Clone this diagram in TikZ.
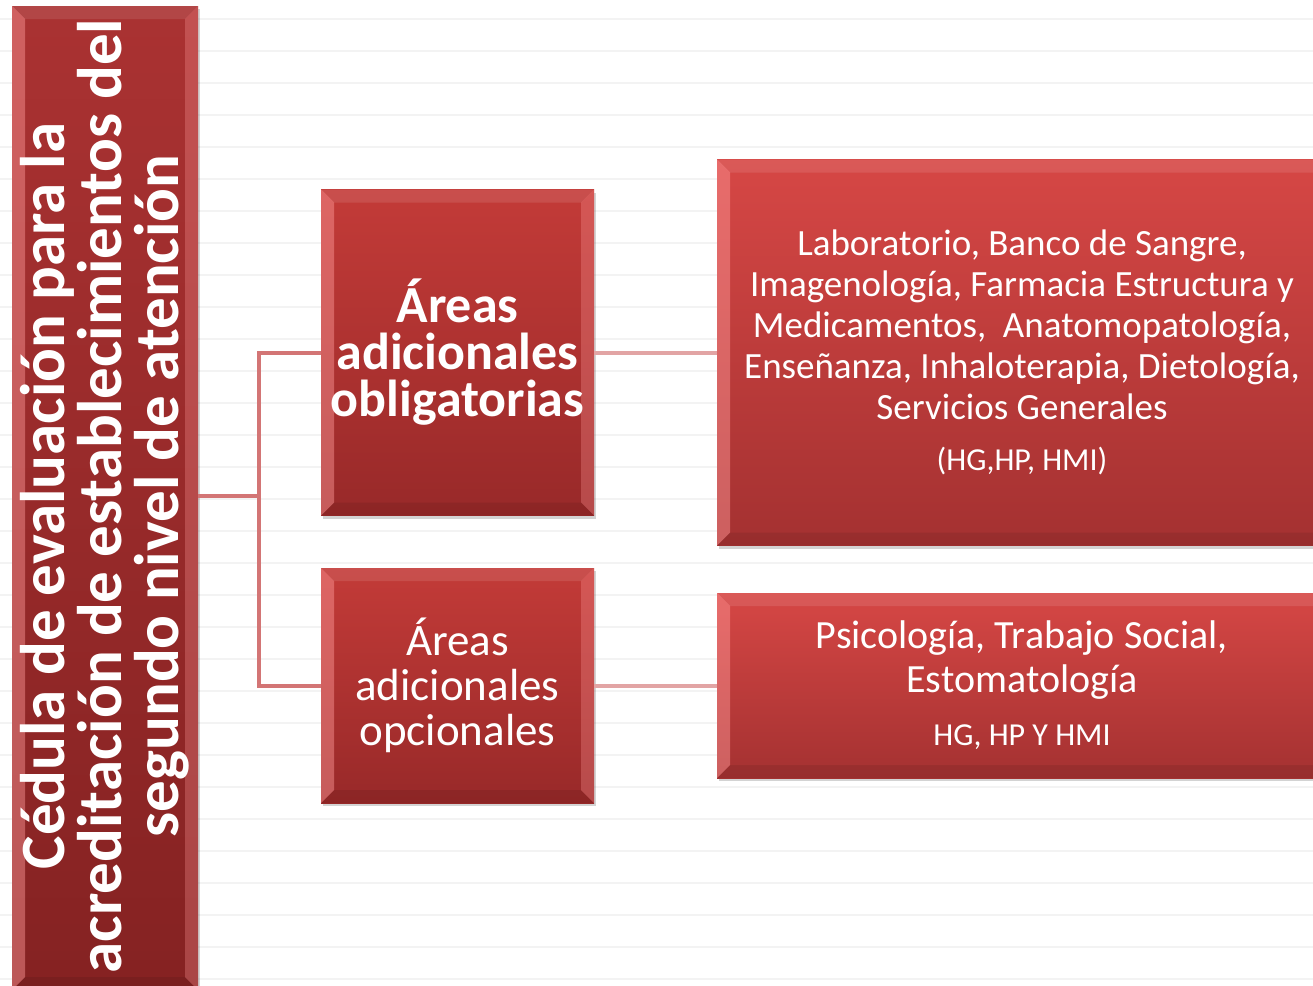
\documentclass[tikz,border=0pt]{standalone}
\usepackage{fontspec}
\setmainfont{Carlito}
\usetikzlibrary{shadows}

\definecolor{barTop}{HTML}{AA3232}
\definecolor{barBot}{HTML}{852222}
\definecolor{midTop}{HTML}{C33B38}
\definecolor{midBot}{HTML}{982929}
\definecolor{wideTop}{HTML}{D64745}
\definecolor{wideBot}{HTML}{A43131}
\definecolor{bevelPink}{HTML}{FF9A9A}
\definecolor{trunkRed}{HTML}{D37575}
\definecolor{twigRed}{HTML}{E2A4A4}
\definecolor{ruleGray}{HTML}{F3F3F3}

\begin{document}
\begin{tikzpicture}[x=1pt, y=-1pt, >=latex]
        \tikzstyle{block} = [rectangle, text=white, align=center, inner sep=0pt,
            drop shadow={shadow xshift=2pt, shadow yshift=-3pt, opacity=0.35},
            path picture={
                \coordinate (nw) at (path picture bounding box.north west);
                \coordinate (ne) at (path picture bounding box.north east);
                \coordinate (sw) at (path picture bounding box.south west);
                \coordinate (se) at (path picture bounding box.south east);
                \fill[bevelPink, opacity=0.45] (nw) -- ([xshift=13pt,yshift=-13pt]nw) -- ([xshift=13pt,yshift=13pt]sw) -- (sw) -- cycle;
                \fill[bevelPink, opacity=0.3] (ne) -- ([xshift=-13pt,yshift=-13pt]ne) -- ([xshift=-13pt,yshift=13pt]se) -- (se) -- cycle;
                \fill[white, opacity=0.1] (nw) -- ([xshift=13pt,yshift=-13pt]nw) -- ([xshift=-13pt,yshift=-13pt]ne) -- (ne) -- cycle;
                \fill[black, opacity=0.08] (sw) -- ([xshift=13pt,yshift=13pt]sw) -- ([xshift=-13pt,yshift=13pt]se) -- (se) -- cycle;
            }]
        \tikzstyle{trunk} = [draw=trunkRed, line width=4pt]
        \tikzstyle{twig} = [draw=twigRed, line width=4pt]

        \useasboundingbox (0,0) rectangle (1313,985);
        \clip (0,0) rectangle (1313,985);
        \foreach \y in {19,51,...,979}
            \draw[ruleGray, line width=1.5pt] (0,\y) -- (1313,\y);

        \node[block, top color=barTop, bottom color=barBot, minimum width=186pt, minimum height=984pt,
            label={[rotate=90, text=white, align=center, font=\fontsize{63}{57}\selectfont\bfseries, xshift=2pt]center:{C\'edula de evaluaci\'on para la\\acreditaci\'on de establecimientos del\\segundo nivel de atenci\'on}}] (bar) at (105,498) {};
        \node[block, top color=midTop, bottom color=midBot, minimum width=273pt, minimum height=326pt,
            font=\fontsize{52}{47}\selectfont\bfseries] (oblig) at (457.5,352.5) {\'Areas\\adicionales\\obligatorias};
        \node[block, top color=midTop, bottom color=midBot, minimum width=273pt, minimum height=235pt,
            font=\fontsize{45}{45}\selectfont] (opc) at (457.5,685.5) {\'Areas\\adicionales\\opcionales};
        \node[block, top color=wideTop, bottom color=wideBot, minimum width=610pt, minimum height=386pt,
            font=\fontsize{37}{41}\selectfont] (obligList) at (1022,352.5) {Laboratorio, Banco de Sangre,\\Imagenolog\'ia, Farmacia Estructura y\\Medicamentos,~ Anatomopatolog\'ia,\\Ense\~nanza, Inhaloterapia, Dietolog\'ia,\\Servicios Generales\\[10pt]{\fontsize{32}{36}\selectfont (HG,HP, HMI)}};
        \node[block, top color=wideTop, bottom color=wideBot, minimum width=610pt, minimum height=185pt,
            font=\fontsize{40}{44}\selectfont] (opcList) at (1022,685.5) {Psicolog\'ia, Trabajo Social,\\Estomatolog\'ia\\[9pt]{\fontsize{32}{36}\selectfont HG, HP Y HMI}};

        \coordinate (fork) at (259,496);
        \draw[trunk] (bar.east |- fork) -- (fork);
        \draw[trunk] (fork) |- (oblig.west);
        \draw[trunk] (fork) |- (opc.west);
        \draw[twig] (oblig) -- (obligList);
        \draw[twig] (opc) -- (opcList);
    \end{tikzpicture}
\end{document}
